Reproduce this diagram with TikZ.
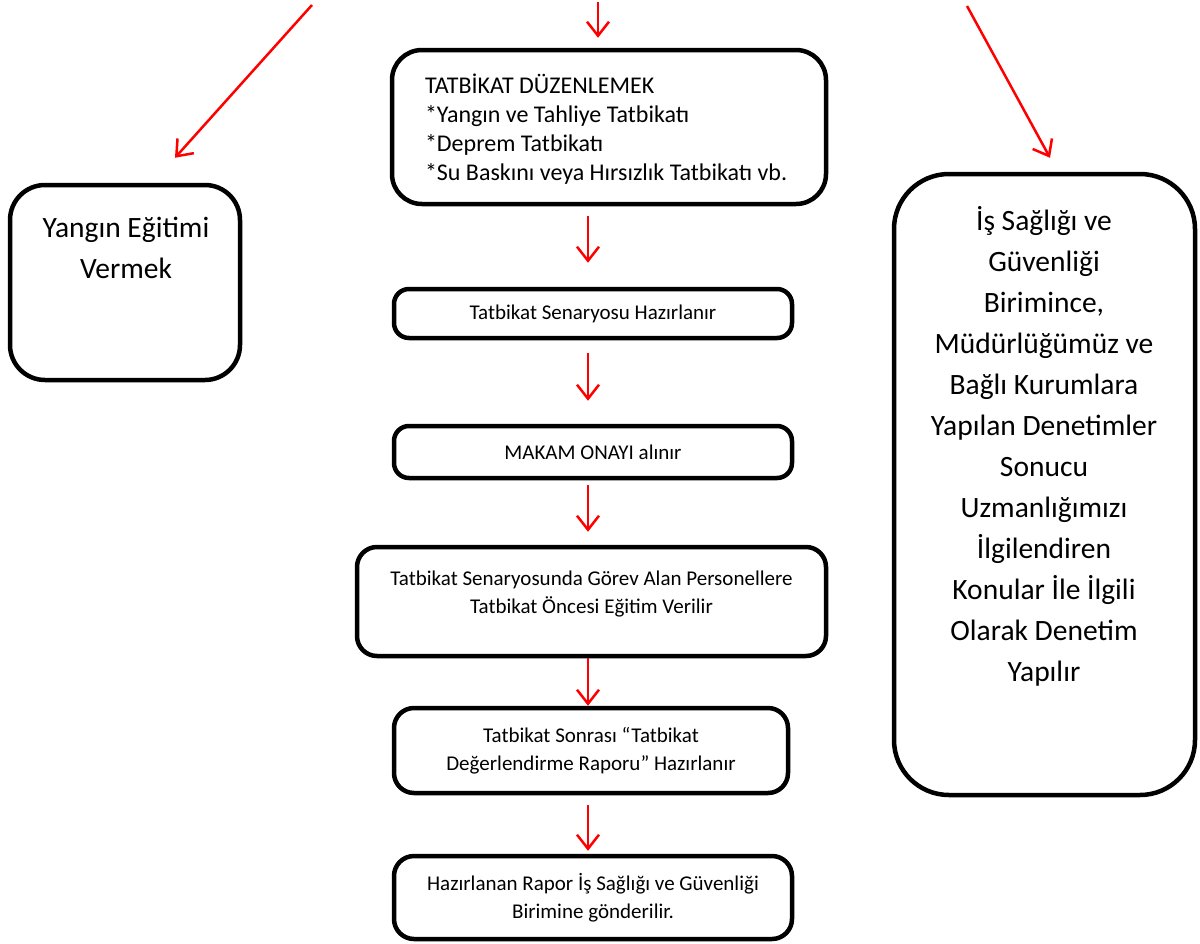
\documentclass[tikz,border=0pt]{standalone}
\usepackage{fontspec}
\setmainfont{Carlito}
\usetikzlibrary{arrows.meta,calc}
\begin{document}
\begin{tikzpicture}[x=1pt,y=-1pt,
  box/.style={draw=black, line width=4.5pt, fill=white, inner sep=0pt, align=center},
  smallbox/.style={box, rounded corners=15pt, font=\fontsize{21}{28}\selectfont},
  smalltext/.style={inner sep=0pt, align=center, font=\fontsize{21}{28}\selectfont},
  bigtext/.style={inner sep=0pt, align=center, font=\fontsize{29.5}{41}\selectfont},
  arr/.style={draw=red, line width=2.5pt, -{Straight Barb[length=14pt,width=22pt]}}
]
\useasboundingbox (0,0) rectangle (1200,943);

% side boxes
\node[box, rounded corners=35pt, minimum width=230pt, minimum height=195pt] (yangin) at (125,282.5) {};
\node[bigtext] (yangin-t) at (126,247.5) {Yangın Eğitimi\\Vermek};

\node[box, rounded corners=55pt, minimum width=301pt, minimum height=621pt] (denetim) at (1044.5,484.5) {};
\node[bigtext] (denetim-t) at (1044,446) {İş Sağlığı ve\\Güvenliği\\Birimince,\\Müdürlüğümüz ve\\Bağlı Kurumlara\\Yapılan Denetimler\\Sonucu\\Uzmanlığımızı\\İlgilendiren\\Konular İle İlgili\\Olarak Denetim\\Yapılır};

% main column
\node[box, rounded corners=30pt, minimum width=434pt, minimum height=154pt] (duzen) at (609,127) {};
\node[inner sep=0pt, text width=368pt, align=flush left, font=\fontsize{24}{29}\selectfont] (duzen-t) at (609,129)
  {TATBİKAT DÜZENLEMEK\\{}*Yangın ve Tahliye Tatbikatı\\{}*Deprem Tatbikatı\\{}*Su Baskını veya Hırsızlık Tatbikatı vb.};

\node[smallbox, minimum width=398pt, minimum height=49pt] (senaryo) at (593,313.5) {Tatbikat Senaryosu Hazırlanır};
\node[smallbox, minimum width=398pt, minimum height=52pt] (makam) at (593,452) {MAKAM ONAYI alınır};
\node[smallbox, rounded corners=20pt, minimum width=469pt, minimum height=109pt] (gorev) at (591.5,601.5) {};
\node[smalltext] (gorev-t) at (591.5,594)
  {Tatbikat Senaryosunda Görev Alan Personellere\\Tatbikat Öncesi Eğitim Verilir};
\node[smallbox, rounded corners=20pt, minimum width=394pt, minimum height=85pt] (sonra) at (591,750.5)
  {Tatbikat Sonrası “Tatbikat\\Değerlendirme Raporu” Hazırlanır};
\node[smallbox, rounded corners=20pt, minimum width=398pt, minimum height=83pt] (rapor) at (593,897.5)
  {Hazırlanan Rapor İş Sağlığı ve Güvenliği\\Birimine gönderilir.};

% incoming arrows from above
\coordinate (inL) at (312,5);
\coordinate (inC) at (598,2);
\coordinate (inR) at (967,6);
\draw[arr] (inL) -- ($(yangin.north)+(50,-25)$);
\draw[arr] (inC) -- ($(duzen.north)+(-11,-10)$);
\draw[arr] (inR) -- ($(denetim.north)+(5.5,-14)$);

% flow down the main column
\coordinate (ax) at (588,0);
\draw[arr] ($(duzen.south -| ax)+(0,10)$) -- ($(senaryo.north -| ax)+(0,-24)$);
\draw[arr] ($(senaryo.south -| ax)+(0,13)$) -- ($(makam.north -| ax)+(0,-23)$);
\draw[arr] ($(makam.south -| ax)+(0,5)$) -- ($(gorev.north -| ax)+(0,-13)$);
\draw[arr] ($(gorev.south -| ax)+(0,0)$) -- ($(sonra.north -| ax)+(0,0)$);
\draw[arr] ($(sonra.south -| ax)+(0,10)$) -- ($(rapor.north -| ax)+(0,-3)$);
\end{tikzpicture}
\end{document}
